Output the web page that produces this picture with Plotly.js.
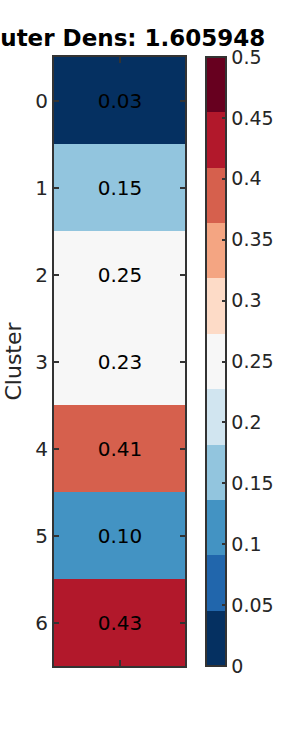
<!DOCTYPE html>
<html>
<head>
<meta charset="utf-8">
<script src="https://cdn.plot.ly/plotly-3.0.1.min.js"></script>
<style>html,body{margin:0;padding:0;background:#fff;}#chart{width:300px;height:750px;}</style>
</head>
<body>
<div id="chart"></div>
<script>
// Data
const clusters = ["0", "1", "2", "3", "4", "5", "6"];
const densValues = [0.03, 0.15, 0.25, 0.23, 0.406, 0.10, 0.43];
const titleText = "Outer Dens: 1.605948";
const colorTicks = [0, 0.05, 0.1, 0.15, 0.2, 0.25, 0.3, 0.35, 0.4, 0.45, 0.5];
const binColors = ["#053061", "#2166ac", "#4393c3", "#92c5de", "#d1e5f0", "#f7f7f7",
                   "#fddbc7", "#f4a582", "#d6604d", "#b2182b", "#67001f"];

const n = binColors.length;
const colorscale = [];
binColors.forEach((c, i) => {
  colorscale.push([i / n, c]);
  colorscale.push([(i + 1) / n, c]);
});

const FONT = "DejaVu Sans, sans-serif";
const trace = {
  type: "heatmap",
  x: [0],
  y: clusters,
  z: densValues.map(v => [v]),
  zmin: 0, zmax: 0.5,
  colorscale: colorscale,
  texttemplate: "%{z:.2f}",
  textfont: {family: FONT, size: 20, color: "#000"},
  hoverinfo: "none",
  colorbar: {
    x: 1.16, xanchor: "left", xref: "paper", xpad: 0,
    y: 0.5, yanchor: "middle", len: 1, lenmode: "fraction", ypad: 0,
    thickness: 20, thicknessmode: "pixels",
    outlinewidth: 2, outlinecolor: "#333",
    tickvals: colorTicks, ticks: "inside", ticklen: 5, tickwidth: 2, tickcolor: "#333",
    tickfont: {family: FONT, size: 19, color: "#262626"}
  }
};

const layout = {
  width: 300, height: 750,
  margin: {l: 54, r: 115, t: 57, b: 84},
  paper_bgcolor: "#fff", plot_bgcolor: "#fff",
  font: {family: FONT, color: "#262626"},
  title: {
    text: "<b>" + titleText + "</b>",
    font: {family: FONT, size: 23, color: "#000"},
    x: 0.41, xanchor: "center", xref: "container",
    y: 1, yref: "paper", yanchor: "bottom", pad: {b: 11}
  },
  xaxis: {
    tickvals: [0], showticklabels: false, ticks: "inside", ticklen: 6, tickwidth: 2, tickcolor: "#333",
    showline: true, linecolor: "#333", linewidth: 2, mirror: "ticks",
    showgrid: false, zeroline: false, range: [-0.5, 0.5], fixedrange: true
  },
  yaxis: {
    type: "category", autorange: "reversed",
    ticks: "inside", ticklen: 5, tickwidth: 2, tickcolor: "#333",
    showline: true, linecolor: "#333", linewidth: 2, mirror: "ticks",
    showgrid: false, zeroline: false,
    tickfont: {family: FONT, size: 20, color: "#262626"},
    title: {text: "Cluster", font: {family: FONT, size: 22, color: "#262626"}, standoff: 8}
  }
};

Plotly.newPlot("chart", [trace], layout, {staticPlot: true, displayModeBar: false});
</script>
</body>
</html>
